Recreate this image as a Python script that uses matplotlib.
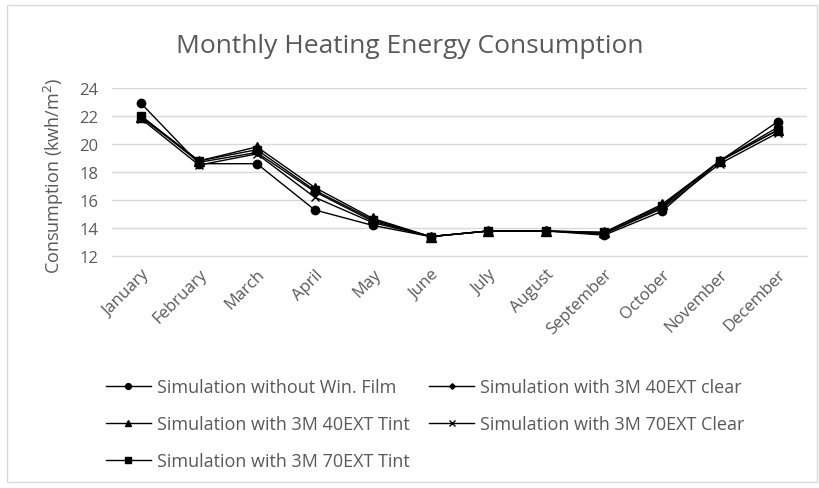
import matplotlib
matplotlib.use('Agg')
import matplotlib.pyplot as plt
from matplotlib.patches import Rectangle

# Monthly heating consumption (kWh/m2)
months = ['January', 'February', 'March', 'April', 'May', 'June', 'July',
          'August', 'September', 'October', 'November', 'December']
no_film = [22.9, 18.6, 18.6, 15.3, 14.2, 13.4, 13.8, 13.8, 13.5, 15.2, 18.8, 21.6]
ext40_clear = [22.0, 18.7, 19.4, 16.6, 14.5, 13.4, 13.8, 13.8, 13.6, 15.5, 18.8, 21.2]
ext40_tint = [21.9, 18.8, 19.8, 16.9, 14.7, 13.4, 13.8, 13.8, 13.7, 15.7, 18.8, 21.0]
ext70_clear = [21.8, 18.5, 19.3, 16.2, 14.4, 13.4, 13.8, 13.8, 13.6, 15.4, 18.6, 20.8]
ext70_tint = [22.0, 18.8, 19.6, 16.7, 14.6, 13.4, 13.8, 13.8, 13.7, 15.6, 18.8, 21.0]
yticks = [12, 14, 16, 18, 20, 22, 24]

grey = '#595959'
plt.rcParams['font.family'] = ['Open Sans', 'DejaVu Sans']

fig = plt.figure(figsize=(8.19, 4.89), dpi=100)
ax = fig.add_axes([0.137, 0.474, 0.848, 0.344])

# outer chart border
fig.patches.append(Rectangle((0.009, 0.012), 0.988, 0.975, transform=fig.transFigure,
                             fill=False, edgecolor='#d9d9d9', linewidth=1))

x = range(len(months))
h1, = ax.plot(x, no_film, color='black', lw=1, marker='o', ms=6, label='Simulation without Win. Film')
h2, = ax.plot(x, ext40_clear, color='black', lw=1, marker='D', ms=4, label='Simulation with 3M 40EXT clear')
h3, = ax.plot(x, ext40_tint, color='black', lw=1, marker='^', ms=7, label='Simulation with 3M 40EXT Tint')
h4, = ax.plot(x, ext70_clear, color='black', lw=1, marker='x', ms=6, label='Simulation with 3M 70EXT Clear')
h5, = ax.plot(x, ext70_tint, color='black', lw=1, marker='s', ms=6, label='Simulation with 3M 70EXT Tint')

ax.set_xlim(-0.5, len(months) - 0.5)
ax.set_ylim(12, 24)
ax.set_yticks(yticks)
ax.set_xticks(list(x))
ax.set_xticklabels(months, rotation=45, ha='right', rotation_mode='anchor')
ax.tick_params(axis='both', length=0, colors=grey, labelsize=12)
ax.tick_params(axis='x', pad=7)
ax.tick_params(axis='y', pad=10)
ax.grid(axis='y', color='#d9d9d9', lw=1)
ax.set_axisbelow(True)
for s in ['top', 'right', 'left']:
    ax.spines[s].set_visible(False)
ax.spines['bottom'].set_color('#d9d9d9')

fig.text(0.066, 0.64, 'Consumption (kwh/m$^2$)', rotation=90, ha='center', va='center',
         color=grey, fontsize=13)
fig.text(0.5, 0.905, 'Monthly Heating Energy Consumption', ha='center', va='center',
         color=grey, fontsize=19)

# row-major order like the original legend
handles = [h1, h3, h5, h2, h4]
ax.legend(handles=handles, loc='upper left', bbox_to_anchor=(0.109, 0.258),
          bbox_transform=fig.transFigure, ncol=2, frameon=False, fontsize=13,
          labelcolor=grey, handlelength=2.5, handletextpad=0.33, columnspacing=1.1,
          labelspacing=1.05, markerscale=0.7)

fig.savefig('out.png', dpi=100)
